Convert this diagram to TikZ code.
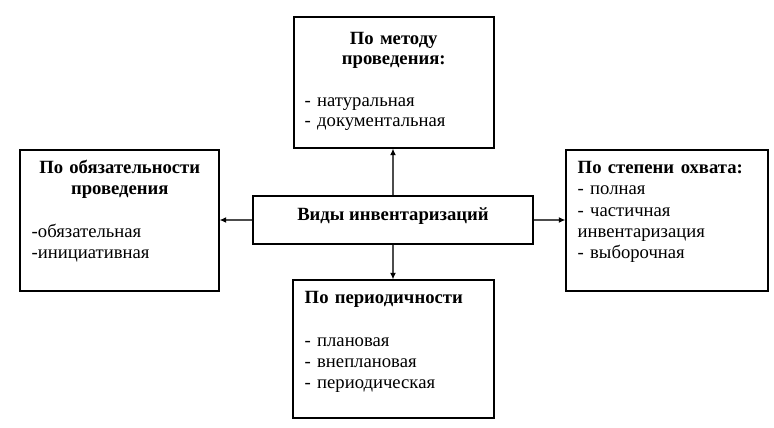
\documentclass[tikz,border=0pt]{standalone}
\usepackage{fontspec}
\setmainfont{Liberation Serif}
\usetikzlibrary{arrows.meta,positioning}
\tikzstyle{box}=[draw,line width=0.8pt,rectangle,inner sep=0pt]
\tikzstyle{txt}=[inner sep=0pt,align=left,anchor=base west]
\tikzstyle{conn}=[draw=black!70,line width=1pt,-{Latex[length=5pt,width=4.5pt,black]}]
\newcommand{\px}{0.75pt}

\begin{document}
\begin{tikzpicture}[x=\px,y=-\px,font=\fontsize{14}{16}\selectfont]
\useasboundingbox (0,0) rectangle (774,428);

% boxes
\node[box,minimum width=200*\px,minimum height=131*\px] (metod) at (394,82.5) {};
\node[box,minimum width=199*\px,minimum height=141*\px] (obyaz) at (119.5,220.5) {};
\node[box,minimum width=202*\px,minimum height=141*\px] (ohvat) at (667,220.5) {};
\node[box,minimum width=201*\px,minimum height=138*\px] (period) at (393.5,349) {};
\node[box,minimum width=280*\px,minimum height=48*\px,text height=8pt,text depth=8pt,
  font=\fontsize{14}{16}\selectfont\bfseries] (vidy) at (393,220) {Виды инвентаризаций};

% texts
\node[txt,text width=178*\px,font=\fontsize{14}{15.4}\selectfont] (metodtext) at ([shift={(11,28)}]metod.north west)
  {{\centering\textbf{По методу}\\ \textbf{проведения:}\par}
   \mbox{}\\
   - натуральная\\
   - документальная};
\node[txt,text width=176*\px] (obyaztext) at ([shift={(12,24)}]obyaz.north west)
  {{\centering\textbf{По обязательности}\\ \textbf{проведения}\par}
   \mbox{}\\
   -обязательная\\
   -инициативная};
\node[txt,text width=185*\px] (ohvattext) at ([shift={(12,24)}]ohvat.north west)
  {\textbf{По степени\hspace{5pt}охвата:}\\
   - полная\\
   - частичная\\
   инвентаризация\\
   - выборочная};
\node[txt,text width=185*\px] (periodtext) at ([shift={(12,24)}]period.north west)
  {\textbf{По периодичности}\\
   \mbox{}\\
   - плановая\\
   - внеплановая\\
   - периодическая};

% arrows
\draw[conn] (vidy.north) -- (vidy.north |- metod.south);
\draw[conn] (vidy.south) -- (vidy.south |- period.north);
\draw[conn] (vidy.west) -- (vidy.west -| obyaz.east);
\draw[conn] (vidy.east) -- (vidy.east -| ohvat.west);
\end{tikzpicture}
\end{document}
